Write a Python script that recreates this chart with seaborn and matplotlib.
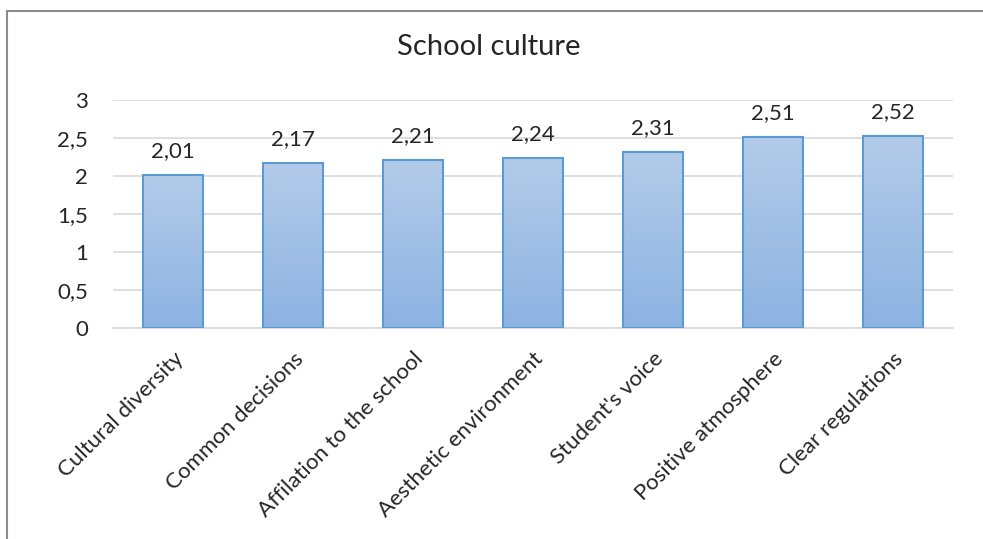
import numpy as np
import pandas as pd
import matplotlib
matplotlib.use("Agg")
import matplotlib.pyplot as plt
import seaborn as sns
from matplotlib.lines import Line2D
from matplotlib.colors import LinearSegmentedColormap

# data
categories = [
    "Cultural diversity",
    "Common decisions",
    "Affilation to the school",
    "Aesthetic environment",
    "Student's voice",
    "Positive atmosphere",
    "Clear regulations",
]
values = [2.01, 2.17, 2.21, 2.24, 2.31, 2.51, 2.52]
yticks = [0, 0.5, 1, 1.5, 2, 2.5, 3]

df = pd.DataFrame({"item": categories, "score": values})

sns.set_style("white")
plt.rcParams["font.family"] = ["Lato", "DejaVu Sans"]

fig = plt.figure(figsize=(9.83, 5.39), dpi=100)
ax = fig.add_axes([0.115, 0.3915, 0.8545, 0.423])

sns.barplot(data=df, x="item", y="score", color="#A3C1E5", width=0.5,
            edgecolor="#5B9BD5", linewidth=1.5, ax=ax, zorder=3)

# vertical gradient inside every bar
grad = LinearSegmentedColormap.from_list("g", ["#8DB3E2", "#B3CBE9"])
for p in list(ax.patches):
    x0, y0 = p.get_x(), p.get_y()
    w, h = p.get_width(), p.get_height()
    im = ax.imshow(np.linspace(0, 1, 100).reshape(-1, 1), cmap=grad, aspect="auto",
                   extent=[x0, x0 + w, y0, y0 + h], origin="lower", zorder=2.5)
    im.set_clip_path(p)
    p.set_facecolor("none")
    ax.annotate(f"{h:.2f}".replace(".", ","), (x0 + w / 2, y0 + h),
                xytext=(0, 10), textcoords="offset points",
                ha="center", va="bottom", fontsize=16, color="#262626")

ax.set_xlim(-0.5, len(categories) - 0.5)
ax.set_ylim(0, 3)
ax.set_yticks(yticks)
ax.set_yticklabels([str(v).replace(".", ",") for v in yticks], fontsize=16, color="#262626")
ax.set_xticks(range(len(categories)))
ax.set_xticklabels(categories, rotation=45, ha="right", rotation_mode="anchor",
                   fontsize=16, color="#262626")
ax.tick_params(axis="x", length=0, pad=15)
ax.tick_params(axis="y", length=0, pad=18)
ax.yaxis.grid(True, color="#D9D9D9", linewidth=1.2, zorder=0)
ax.set_axisbelow(True)
for s in ["top", "right", "left"]:
    ax.spines[s].set_visible(False)
ax.spines["bottom"].set_color("#D9D9D9")
ax.spines["bottom"].set_linewidth(1.2)
ax.set_xlabel("")
ax.set_ylabel("")

fig.text(0.497, 0.912, "School culture", ha="center", va="center", fontsize=21, color="#262626")

# chart frame (only top and left visible in the crop)
fig.add_artist(Line2D([0.0071, 1.0], [0.98, 0.98], color="#8C8C8C", linewidth=1.5))
fig.add_artist(Line2D([0.0071, 0.0071], [0.0, 0.98], color="#8C8C8C", linewidth=1.5))

fig.savefig("out.png", dpi=100)
